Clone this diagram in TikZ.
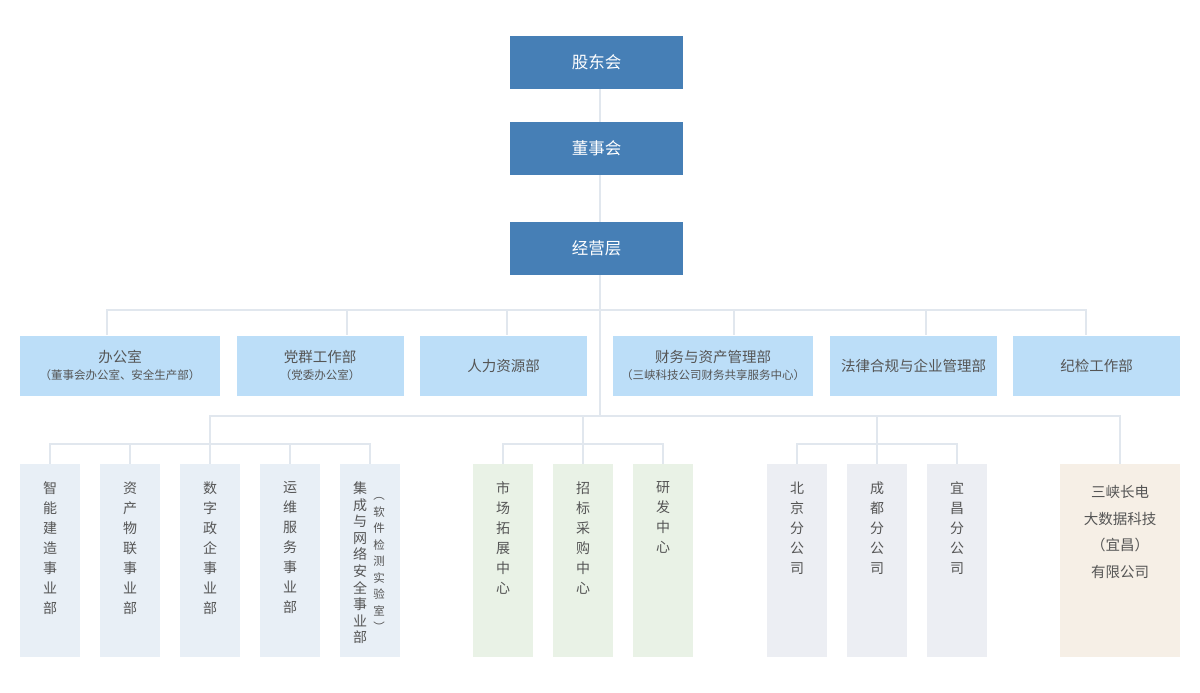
\documentclass[tikz,border=0pt]{standalone}
\usepackage{fontspec}
\setmainfont{Noto Sans CJK SC}
\usetikzlibrary{positioning}
\definecolor{topblue}{HTML}{467FB6}
\definecolor{deptblue}{HTML}{BCDEF8}
\definecolor{bizblue}{HTML}{E8EFF6}
\definecolor{ctrgreen}{HTML}{E9F2E6}
\definecolor{brgray}{HTML}{ECEEF3}
\definecolor{cobeige}{HTML}{F6EFE6}
\definecolor{linec}{HTML}{E1E7EE}
\definecolor{txt}{HTML}{555555}
\tikzset{
  topbox/.style={draw=none, fill=topblue, minimum width=173pt, minimum height=53pt, inner sep=0pt, text=white, font=\fontsize{16.5}{20}\selectfont},
  deptbox/.style={draw=none, fill=deptblue, minimum height=60pt, inner sep=0pt, text=txt, align=center, font=\fontsize{14.5}{17}\selectfont},
  colbox/.style={draw=none, minimum width=60pt, minimum height=193pt, inner sep=0pt},
  vtext/.style={anchor=north, inner sep=0pt, align=center, text=txt, font=\fontsize{14}{20}\selectfont},
  conn/.style={draw=linec, line width=2pt},
}
\newcommand{\subt}[1]{{\fontsize{11.5}{14}\selectfont #1}}
\begin{document}
\begin{tikzpicture}[x=1pt,y=-1pt]
\useasboundingbox (0,0) rectangle (1200,693);
% top
\node[topbox] (gd) at (596.5,62.5) {股东会};
\node[topbox] (dsh) at (596.5,148.5) {董事会};
\node[topbox] (jy) at (596.5,248.5) {经营层};
% coordinates for trunks
\coordinate (t0) at (600,89);
\coordinate (t1) at (600,122);
\coordinate (t2) at (600,175);
\coordinate (t3) at (600,222);
\coordinate (t4) at (600,275);
\coordinate (h1) at (600,310);
\coordinate (h2) at (600,416);
% departments
\node[deptbox, minimum width=200pt] (d1) at (120,365.5) {办公室\\\subt{（董事会办公室、安全生产部）}};
\node[deptbox, minimum width=167pt] (d2) at (320,365.5) {党群工作部\\\subt{（党委办公室）}};
\node[deptbox, minimum width=167pt] (d3) at (503.5,365.5) {人力资源部};
\node[deptbox, minimum width=200pt] (d4) at (713,365.5) {财务与资产管理部\\\subt{（三峡科技公司财务共享服务中心）}};
\node[deptbox, minimum width=167pt] (d5) at (913.5,365.5) {法律合规与企业管理部};
\node[deptbox, minimum width=167pt] (d6) at (1096.5,365.5) {纪检工作部};
% bottom columns
\node[colbox, fill=bizblue] (b1) at (50,560.5) {};
\node[colbox, fill=bizblue] (b2) at (130,560.5) {};
\node[colbox, fill=bizblue] (b3) at (210,560.5) {};
\node[colbox, fill=bizblue] (b4) at (290,560.5) {};
\node[colbox, fill=bizblue] (b5) at (370,560.5) {};
\node[colbox, fill=ctrgreen] (c1) at (503,560.5) {};
\node[colbox, fill=ctrgreen] (c2) at (583,560.5) {};
\node[colbox, fill=ctrgreen] (c3) at (663,560.5) {};
\node[colbox, fill=brgray] (r1) at (797,560.5) {};
\node[colbox, fill=brgray] (r2) at (877,560.5) {};
\node[colbox, fill=brgray] (r3) at (957,560.5) {};
\node[colbox, fill=cobeige, minimum width=120pt] (co) at (1120,560.5) {};
% vertical texts
\node[vtext] (tb1) at (50,481.5) {智\\能\\建\\造\\事\\业\\部};
\node[vtext] (tb2) at (130,481.5) {资\\产\\物\\联\\事\\业\\部};
\node[vtext] (tb3) at (210,481.5) {数\\字\\政\\企\\事\\业\\部};
\node[vtext] (tb4) at (290,481.5) {运\\维\\服\\务\\事\\业\\部};
\node[vtext, font=\fontsize{14}{16.6}\selectfont] (tb5) at (360,481.5) {集\\成\\与\\网\\络\\安\\全\\事\\业\\部};
\node[vtext, font=\fontsize{11.5}{16.5}\selectfont] (tb5s) at (379,497.5) {︵\\软\\件\\检\\测\\实\\验\\室\\︶};
\node[vtext] (tc1) at (503,481.5) {市\\场\\拓\\展\\中\\心};
\node[vtext] (tc2) at (583,481.5) {招\\标\\采\\购\\中\\心};
\node[vtext] (tc3) at (663,481.5) {研\\发\\中\\心};
\node[vtext] (tr1) at (797,481.5) {北\\京\\分\\公\\司};
\node[vtext] (tr2) at (877,481.5) {成\\都\\分\\公\\司};
\node[vtext] (tr3) at (957,481.5) {宜\\昌\\分\\公\\司};
\node[vtext, font=\fontsize{14.5}{26.7}\selectfont] (tco) at (1120,485) {三峡长电\\大数据科技\\（宜昌）\\有限公司};
% connectors
\draw[conn] (gd.south -| t0) -- (dsh.north -| t1);
\draw[conn] (dsh.south -| t2) -- (jy.north -| t3);
\draw[conn] (jy.south -| t4) -- (h2);
\draw[conn] (d1.north -| 107,0) |- (h1) -| (d6.north -| 1086,0);
\draw[conn] (h1 -| 347,0) -- (d2.north -| 347,0);
\draw[conn] (h1 -| 507,0) -- (d3.north -| 507,0);
\draw[conn] (h1 -| 734,0) -- (d4.north -| 734,0);
\draw[conn] (h1 -| 926,0) -- (d5.north -| 926,0);
% lower trunk
\coordinate (g1) at (210,444);
\coordinate (g2) at (583,444);
\coordinate (g3) at (877,444);
\draw[conn] (g1) |- (h2) -| (co.north);
\draw[conn] (h2 -| g2) -- (g2);
\draw[conn] (h2 -| g3) -- (g3);
\draw[conn] (b1.north) |- (g1) -| (b5.north);
\draw[conn] (b2.north) -- (b2.north |- g1);
\draw[conn] (b3.north) -- (g1);
\draw[conn] (b4.north) -- (b4.north |- g1);
\draw[conn] (c1.north) |- (g2) -| (c3.north);
\draw[conn] (c2.north) -- (g2);
\draw[conn] (r1.north) |- (g3) -| (r3.north);
\draw[conn] (r2.north) -- (g3);
\end{tikzpicture}
\end{document}
